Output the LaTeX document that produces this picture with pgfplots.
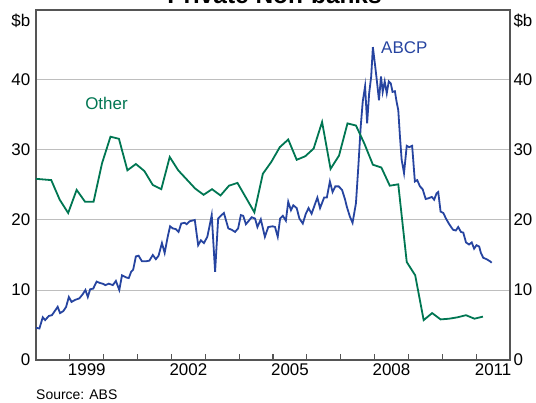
\documentclass[border=0pt]{standalone}
\usepackage{fontspec}
\setmainfont{Liberation Sans}
\usepackage{pgfplots}
\pgfplotsset{compat=1.18}

\definecolor{abcp}{RGB}{38,68,160}
\definecolor{other}{RGB}{0,118,82}
\definecolor{gridgray}{RGB}{190,190,190}
\definecolor{axisgray}{RGB}{85,85,85}

\begin{document}
\begin{tikzpicture}
\pgfplotsset{
  rbabase/.style={
    at={(0,0)}, anchor=south west,
    width=474bp, height=350bp, scale only axis,
    xmin=1998, xmax=2012, ymin=0, ymax=50,
    ytick={0,10,20,30,40},
    extra y ticks={48.4}, extra y tick labels={\$b},
    extra y tick style={grid=none},
    tick label style={font=\fontsize{17}{17}\selectfont},
    /pgf/number format/assume math mode=true,
  }
}
\begin{axis}[rbabase,
  axis line style={axisgray, line width=1.5bp},
  ymajorgrids, grid style={gridgray, line width=1bp},
  xtick={1999,...,2011}, xticklabels={},
  xtick pos=bottom, ytick pos=left,
  tick align=inside,
  x tick style={axisgray, line width=1.2bp},
  major tick length=6bp,
  y tick style={draw=none},
  yticklabel style={xshift=-2.3bp},
  extra x ticks={1999.5,2002.5,2005.5,2008.5,2011.5},
  extra x tick labels={1999,2002,2005,2008,2011},
  extra x tick style={major tick length=0pt, grid=none},
]
% ABCP, monthly
\addplot[abcp, line width=1.8bp] coordinates {
(1998.00,4.6) (1998.10,4.5) (1998.20,6.1) (1998.27,5.7) (1998.38,6.3)
(1998.47,6.4) (1998.57,7.1) (1998.64,7.6) (1998.71,6.7) (1998.81,7.0)
(1998.89,7.6) (1998.97,9.0) (1999.05,8.3) (1999.16,8.6) (1999.28,8.8)
(1999.38,9.4) (1999.46,10.0) (1999.53,9.0) (1999.60,10.1) (1999.69,10.2)
(1999.79,11.2) (1999.89,11.0) (1999.97,10.9) (2000.05,10.7) (2000.15,10.9)
(2000.27,10.7) (2000.36,11.3) (2000.46,10.0) (2000.54,12.1) (2000.66,11.8)
(2000.74,11.7) (2000.81,12.6) (2000.87,12.9) (2000.95,14.8) (2001.03,14.9)
(2001.13,14.1) (2001.25,14.1) (2001.35,14.2) (2001.45,15.0) (2001.54,14.4)
(2001.62,14.9) (2001.72,16.7) (2001.80,15.3) (2001.89,17.6) (2001.96,19.1)
(2002.04,18.8) (2002.13,18.7) (2002.21,18.3) (2002.29,19.5) (2002.39,19.6)
(2002.45,19.4) (2002.53,19.8) (2002.60,19.9) (2002.69,20.0) (2002.79,16.4)
(2002.87,17.1) (2002.96,16.7) (2003.06,17.6) (2003.12,19.0) (2003.19,20.7)
(2003.29,12.6) (2003.38,20.2) (2003.48,20.7) (2003.55,21.0) (2003.68,18.8)
(2003.78,18.6) (2003.88,18.3) (2003.97,18.8) (2004.05,20.7) (2004.12,20.6)
(2004.20,19.4) (2004.27,19.8) (2004.37,20.4) (2004.47,20.2) (2004.54,19.0)
(2004.64,20.1) (2004.76,17.6) (2004.86,19.0) (2004.99,19.1) (2005.06,19.0)
(2005.14,17.6) (2005.21,20.2) (2005.29,20.6) (2005.38,19.9) (2005.45,22.6)
(2005.53,21.4) (2005.60,22.1) (2005.70,21.7) (2005.78,20.2) (2005.88,19.5)
(2005.97,20.9) (2006.05,21.7) (2006.14,20.9) (2006.25,22.4) (2006.31,23.2)
(2006.39,21.7) (2006.51,23.2) (2006.59,23.2) (2006.68,25.5) (2006.76,24.0)
(2006.84,24.8) (2006.94,24.8) (2007.04,24.3) (2007.13,22.9) (2007.18,21.9)
(2007.27,20.5) (2007.35,19.6) (2007.45,22.4) (2007.52,27.6) (2007.59,33.3)
(2007.65,36.9) (2007.72,39.1) (2007.78,33.8) (2007.84,38.1) (2007.90,40.5)
(2007.95,44.7) (2008.02,41.9) (2008.07,39.8) (2008.13,37.1) (2008.19,40.5)
(2008.24,38.3) (2008.30,39.8) (2008.36,38.1) (2008.42,39.8) (2008.48,39.5)
(2008.53,38.3) (2008.60,38.4) (2008.65,36.9) (2008.70,35.7) (2008.75,31.9)
(2008.80,28.6) (2008.87,26.7) (2008.95,30.6) (2009.02,30.4) (2009.11,30.6)
(2009.19,25.5) (2009.26,25.7) (2009.34,24.8) (2009.42,24.4) (2009.51,23.0)
(2009.59,23.1) (2009.69,23.3) (2009.76,22.9) (2009.83,23.8) (2009.88,24.0)
(2009.95,21.2) (2010.03,21.0) (2010.11,20.2) (2010.18,19.6) (2010.26,19.0)
(2010.32,18.6) (2010.40,18.5) (2010.47,19.0) (2010.55,18.3) (2010.62,18.2)
(2010.70,16.8) (2010.79,16.5) (2010.87,16.8) (2010.94,15.9) (2011.01,16.4)
(2011.09,16.2) (2011.14,15.3) (2011.21,14.6) (2011.31,14.4) (2011.41,14.1)
(2011.46,13.9)
};
% Other, quarterly
\addplot[other, line width=1.8bp] coordinates {
(1997.95,25.9) (1998.20,25.8) (1998.45,25.7) (1998.70,22.9) (1998.95,21.0)
(1999.20,24.3) (1999.45,22.6) (1999.70,22.6) (1999.95,28.1) (2000.20,31.9)
(2000.45,31.6) (2000.70,27.1) (2000.95,28.0) (2001.20,27.0) (2001.45,25.0)
(2001.70,24.4) (2001.95,29.0) (2002.20,27.1) (2002.45,25.8) (2002.70,24.5)
(2002.95,23.6) (2003.20,24.4) (2003.45,23.5) (2003.70,24.9) (2003.95,25.3)
(2004.20,23.2) (2004.45,21.1) (2004.70,26.6) (2004.95,28.3) (2005.20,30.4)
(2005.45,31.5) (2005.70,28.6) (2005.95,29.1) (2006.20,30.2) (2006.45,34.0)
(2006.70,27.3) (2006.95,29.2) (2007.20,33.8) (2007.45,33.5) (2007.70,30.9)
(2007.95,27.9) (2008.20,27.5) (2008.45,24.9) (2008.70,25.1) (2008.95,14.0)
(2009.20,12.1) (2009.45,5.7) (2009.70,6.7) (2009.95,5.8) (2010.20,5.9)
(2010.45,6.1) (2010.70,6.4) (2010.95,5.9) (2011.20,6.2)
};
\node[anchor=west, inner sep=0, text=other, font=\fontsize{17}{17}\selectfont]
  at (axis cs:1999.45,36.7) {Other};
\node[anchor=west, inner sep=0, text=abcp, font=\fontsize{17}{17}\selectfont]
  at (axis cs:2008.19,44.6) {ABCP};
\end{axis}
\begin{axis}[rbabase,
  hide x axis,
  axis y line*=right,
  y axis line style={draw=none},
  y tick style={draw=none},
]
\end{axis}
\node[anchor=base, font=\bfseries\fontsize{24.5}{24.5}\selectfont]
  at (238.5bp,356bp) {Private Non-banks};
\node[anchor=base west, inner sep=0, font=\fontsize{14}{14}\selectfont]
  at (0bp,-39.5bp) {Source: ABS};
\pgfresetboundingbox
\path[use as bounding box] (-36bp,-43bp) rectangle (500bp,360bp);
\end{tikzpicture}
\end{document}
